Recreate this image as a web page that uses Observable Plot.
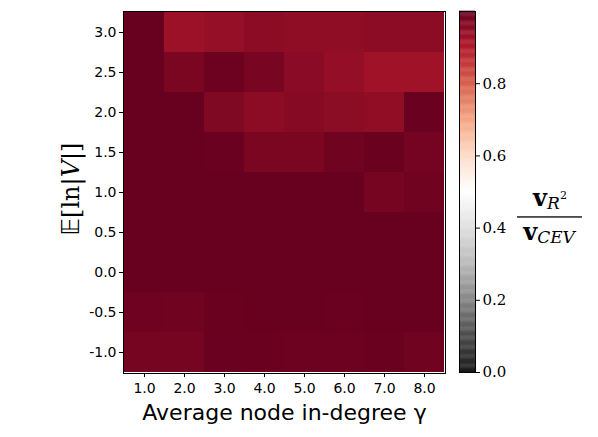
<!DOCTYPE html>
<html><head><meta charset="utf-8">
<script src="https://cdn.jsdelivr.net/npm/d3@7"></script>
<script src="https://cdn.jsdelivr.net/npm/@observablehq/plot@0.6"></script>
<style>
body{margin:0;background:#fff;}
#wrap{position:relative;width:598px;height:437px;overflow:hidden;}
#wrap > div, #wrap > svg.ov{position:absolute;left:0;top:0;}
</style></head>
<body><div id="wrap"></div>
<script>
const gammas = ["1.0","2.0","3.0","4.0","5.0","6.0","7.0","8.0"];
const lnV = ["3.0","2.5","2.0","1.5","1.0","0.5","0.0","-0.5","-1.0"];
// ratio v_R2 / v_CEV, rows follow lnV, columns follow gammas
const ratio = [
  [0.999,0.929,0.939,0.951,0.947,0.947,0.949,0.949],
  [0.999,0.975,0.992,0.977,0.953,0.941,0.925,0.925],
  [0.999,0.999,0.968,0.951,0.959,0.952,0.944,0.995],
  [0.999,0.999,0.995,0.975,0.975,0.988,0.996,0.983],
  [0.999,0.999,0.999,0.999,0.999,0.999,0.980,0.988],
  [0.999,0.999,0.999,0.999,0.999,0.999,0.999,0.999],
  [0.999,0.999,0.999,0.999,0.999,0.999,0.999,0.999],
  [0.991,0.989,0.996,0.999,0.999,0.995,0.999,0.999],
  [0.981,0.981,0.995,0.997,0.992,0.992,0.996,0.988]
];
const cbTicks = [0, 0.2, 0.4, 0.6, 0.8];
const rdgyR = ["#1a1a1a","#4d4d4d","#878787","#bababa","#e0e0e0","#ffffff","#fddbc7","#f4a582","#d6604d","#b2182b","#67001f"];

const cells = [];
lnV.forEach((r,i)=>gammas.forEach((g,j)=>cells.push({g, r, v: ratio[i][j]})));

const colorOpts = {type:"linear", domain: d3.range(11).map(i=>i/10), range: rdgyR, interpolate:"rgb", clamp:true};
const wrap = document.getElementById("wrap");

const W = 598, H = 437;
const main = Plot.plot({
  width: W, height: H,
  marginLeft: 123, marginRight: 153, marginTop: 11, marginBottom: 64,
  style: {fontFamily: "'DejaVu Sans', sans-serif", fontSize: "14px", color: "#000"},
  x: {type:"band", domain: gammas, padding: 0, label: null},
  y: {type:"band", domain: lnV, padding: 0, label: null},
  color: colorOpts,
  marks: [
    Plot.cell(cells, {x:"g", y:"r", fill:"v", inset: 0}),
    Plot.frame({stroke:"#000", strokeWidth: 1}),
    Plot.axisX({tickSize: 4, tickPadding: 6, fontSize: 14}),
    Plot.axisY({tickSize: 4, tickPadding: 3, fontSize: 14}),
    Plot.text(["Average node in-degree γ"], {frameAnchor:"bottom", dy: 46, fontSize: 22, fill:"#000", fontFamily:"'DejaVu Sans', sans-serif"})
  ]
});
const d1 = document.createElement("div");
d1.appendChild(main);
wrap.appendChild(d1);

// colorbar
const step = 0.0025;
const grad = d3.range(0, 1, step).map(v => ({v}));
const cb = Plot.plot({
  width: 60, height: 372,
  marginLeft: 0, marginRight: 44, marginTop: 1, marginBottom: 10,
  style: {fontFamily: "'DejaVu Serif', 'Liberation Serif', serif", fontSize: "14px", color:"#000"},
  x: {domain:[0,1], axis:null},
  y: {domain:[0,1], axis:null},
  color: colorOpts,
  marks: [
    Plot.rect(grad, {x1:0, x2:1, y1: d=>d.v, y2: d=>d.v+step+0.001, fill: "v"}),
    Plot.frame({stroke:"#000", strokeWidth:1}),
    Plot.axisY(cbTicks, {anchor:"right", tickSize: 4, tickPadding: 3, tickFormat: d=>d.toFixed(1), fontSize: 15, fontFamily:"'DejaVu Serif', serif", label:null})
  ]
});
const d2 = document.createElement("div");
d2.style.left = "459px"; d2.style.top = "10px";
d2.appendChild(cb);
wrap.appendChild(d2);

// overlay for math labels
const ns = "http://www.w3.org/2000/svg";
const ov = document.createElementNS(ns, "svg");
ov.setAttribute("class","ov");
ov.setAttribute("width", W); ov.setAttribute("height", H);
ov.innerHTML = `
<g font-family="'DejaVu Serif','Liberation Serif',serif" fill="#000">
  <text x="550" y="206" text-anchor="middle"><tspan font-weight="bold" font-size="24">v</tspan><tspan font-style="italic" font-size="17" dy="3">R</tspan><tspan font-size="11" dy="-10">2</tspan></text>
  <rect x="517" y="216.3" width="65" height="1.3"></rect>
  <text x="549" y="240" text-anchor="middle"><tspan font-weight="bold" font-size="24">v</tspan><tspan font-style="italic" font-size="17" dy="3">CEV</tspan></text>
  <text transform="translate(79,189) rotate(-90)" text-anchor="middle" font-size="24"><tspan font-family="'DejaVu Sans'">𝔼</tspan>[ln|<tspan font-style="italic">V</tspan>|]</text>
</g>`;
wrap.appendChild(ov);
</script></body></html>
